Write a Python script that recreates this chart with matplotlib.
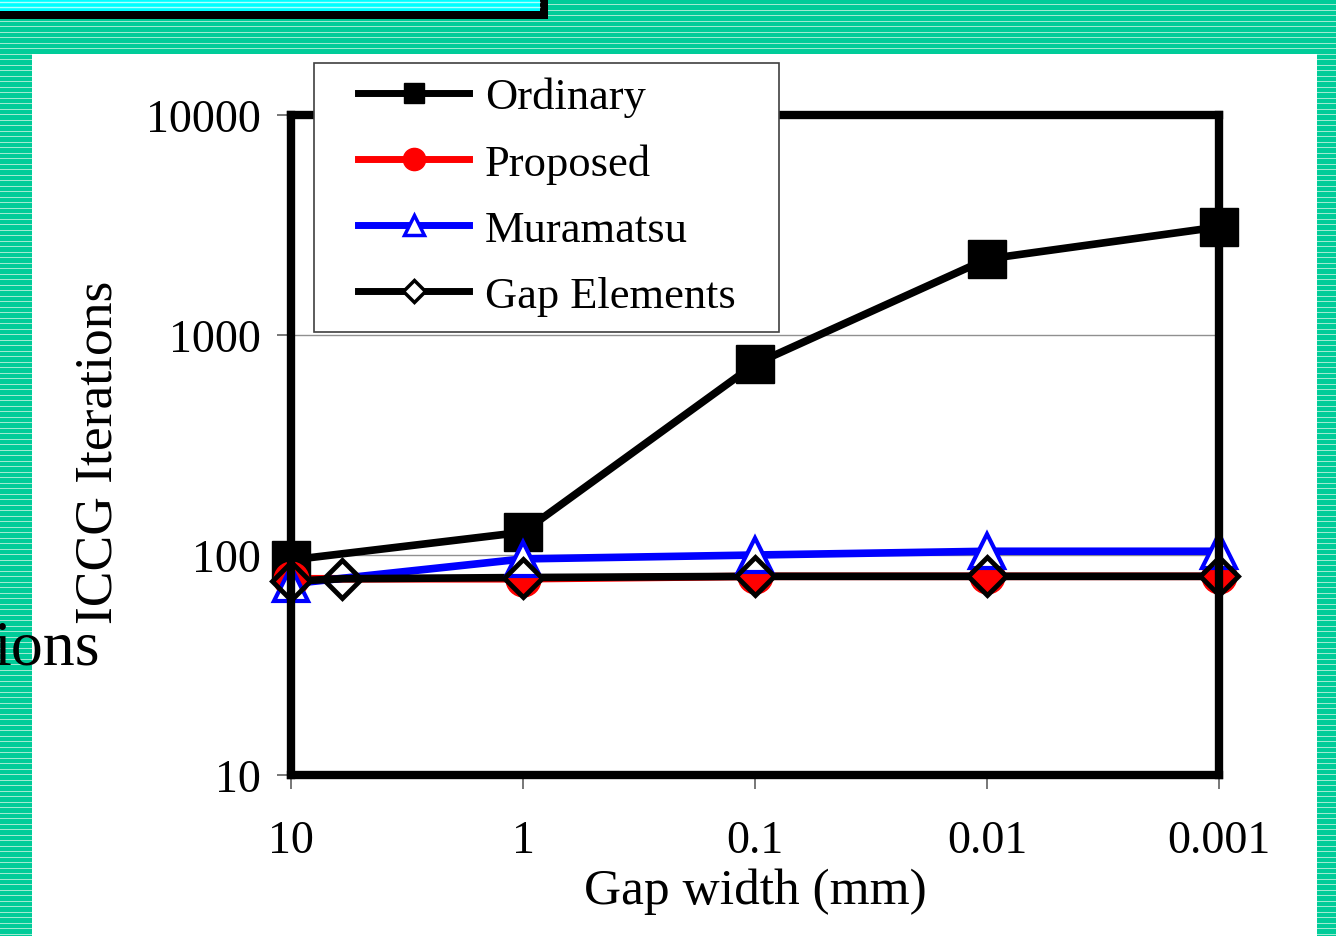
import numpy as np
import matplotlib.pyplot as plt
from matplotlib.patches import Rectangle
from matplotlib.lines import Line2D
from matplotlib.ticker import FixedLocator, FixedFormatter, NullLocator

plt.rcParams['font.family'] = ['Liberation Serif', 'DejaVu Serif']

# gap width (mm) and ICCG iteration counts
gap = [10, 1, 0.1, 0.01, 0.001]
ordinary = [95, 127, 738, 2215, 3100]
proposed = [78, 78, 80, 80, 80]
muramatsu = [74, 96, 100, 104, 104]
gap_el_x = [10, 6, 1, 0.1, 0.01, 0.001]
gap_el = [76, 78, 79, 80, 80, 80]

xticks = [10, 1, 0.1, 0.01, 0.001]
xtick_labels = ['10', '1', '0.1', '0.01', '0.001']
yticks = [10, 100, 1000, 10000]
ytick_labels = ['10', '100', '1000', '10000']

W, H = 1336, 937
fig = plt.figure(figsize=(W / 100, H / 100), dpi=100)

# striped slide background with white panel
bg = fig.add_axes([0, 0, 1, 1], zorder=-10)
bg.set_xlim(0, W)
bg.set_ylim(H, 0)
bg.axis('off')
rows = np.arange(H)
light = (rows % 11 == 0) | (rows % 11 == 5)
stripe = np.where(light[:, None], [[0.62, 0.92, 0.82]], [[0.0, 0.80, 0.60]])
bg.imshow(stripe[:, None, :], extent=[0, W, H, 0], aspect='auto', interpolation='nearest')
bg.add_patch(Rectangle((32, 55), 1285, 900, fc='white', ec='none'))
bg.add_patch(Rectangle((-5, -10), 553, 30, fc='black', ec='none'))
bg.add_patch(Rectangle((-5, -10), 545, 22, fc='#00ffff', ec='none'))
bg.hlines([3, 8], -5, 540, color='#b0ffff', lw=1)
bg.text(100, 665, 'ions', fontsize=46, ha='right', va='baseline')

ax = fig.add_axes([0.2178, 0.1718, 0.6946, 0.7044])
ax.set_xscale('log')
ax.set_yscale('log')
ax.set_xlim(10, 0.001)
ax.set_ylim(10, 10000)
ax.set_facecolor('none')

# lines first, markers on top, in series order
ax.plot(gap, ordinary, color='black', lw=5.5, zorder=2)
ax.plot(gap, proposed, color='red', lw=5.5, zorder=2)
ax.plot(gap, muramatsu, color='blue', lw=5.5, zorder=2)
ax.plot(gap_el_x, gap_el, color='black', lw=5.5, zorder=2)

ax.plot(gap, ordinary, ls='none', marker='s', ms=28, mfc='black', mec='black', zorder=3, clip_on=False)
ax.plot(gap, proposed, ls='none', marker='o', ms=25, mfc='red', mec='red', zorder=3, clip_on=False)
ax.plot(gap, muramatsu, ls='none', marker='^', ms=24, mfc='white', mec='blue', mew=3, zorder=3, clip_on=False)
ax.plot(gap_el_x, gap_el, ls='none', marker='D', ms=19, mfc='none', mec='black', mew=3.5, zorder=3, clip_on=False)

for s in ax.spines.values():
    s.set_linewidth(6)
    s.set_zorder(4)

ax.xaxis.set_major_locator(FixedLocator(xticks))
ax.xaxis.set_major_formatter(FixedFormatter(xtick_labels))
ax.yaxis.set_major_locator(FixedLocator(yticks))
ax.yaxis.set_major_formatter(FixedFormatter(ytick_labels))
ax.xaxis.set_minor_locator(NullLocator())
ax.yaxis.set_minor_locator(NullLocator())
ax.tick_params(axis='both', direction='out', length=10, width=1.2, color='#606060', labelsize=33)
ax.tick_params(axis='x', pad=22)
ax.tick_params(axis='y', pad=12)
ax.yaxis.grid(True, color='#909090', lw=1)
ax.set_axisbelow(True)

ax.set_xlabel('Gap width (mm)', fontsize=37)
ax.xaxis.set_label_coords(0.5, -0.14)
ax.set_ylabel('ICCG Iterations', fontsize=38.5)
ax.yaxis.set_label_coords(-0.182, 0.49)

# legend box drawn separately (on top of the axes) so padding can differ per side
fig.add_artist(Rectangle((314 / W, 1 - 333 / H), 465 / W, 269 / H, transform=fig.transFigure,
                         fc='white', ec='#404040', lw=1.2, zorder=20))
handles = [
    Line2D([], [], color='black', lw=5, marker='s', ms=15, mfc='black', mec='black'),
    Line2D([], [], color='red', lw=5, marker='o', ms=16, mfc='red', mec='red'),
    Line2D([], [], color='blue', lw=5, marker='^', ms=15, mfc='white', mec='blue', mew=2.5),
    Line2D([], [], color='black', lw=5, marker='D', ms=11, mfc='white', mec='black', mew=2.5),
]
labels = ['Ordinary', 'Proposed', 'Muramatsu', 'Gap Elements']
leg = fig.legend(handles, labels, loc='upper left', bbox_to_anchor=(358 / W, 1 - 78 / H),
                 borderaxespad=0, fontsize=32, handlelength=2.5, handletextpad=0.35,
                 labelspacing=0.58, borderpad=0.0, frameon=False)
leg.set_zorder(21)

fig.savefig('out.png', dpi=100)
